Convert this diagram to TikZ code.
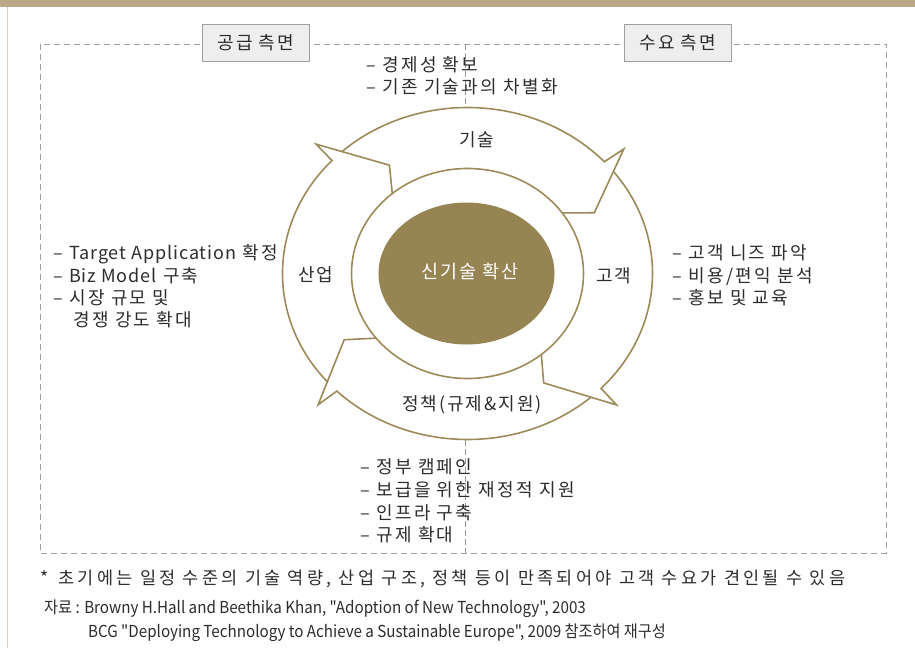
\documentclass[tikz,border=0pt]{standalone}
\usepackage{fontspec}
\setmainfont{Noto Sans CJK KR}
\newfontfamily\lstf[LetterSpace=13]{Noto Sans CJK KR}
\newfontfamily\lblf[LetterSpace=11]{Noto Sans CJK KR}
\newfontfamily\latf[LetterSpace=5]{Noto Sans CJK KR}
\newfontfamily\notef[LetterSpace=19]{Noto Sans CJK KR}
\newfontfamily\srcf[FakeStretch=0.92]{Noto Sans CJK KR}
\definecolor{gold}{RGB}{156,138,88}
\definecolor{goldfill}{RGB}{150,133,83}
\definecolor{topbar}{RGB}{185,169,134}
\definecolor{txt}{RGB}{45,45,45}
\begin{document}
\begin{tikzpicture}[x=1pt,y=-1pt,
 ring/.style={draw=gold, line width=1.6pt, line join=miter, miter limit=10},
 lst/.style={anchor=base west, inner sep=0pt, text=txt, font=\lstf\fontsize{18}{21}\selectfont},
 lbl/.style={inner sep=0pt, text=txt, font=\lblf\fontsize{18}{21}\selectfont},
 tagbox/.style={draw=gray!75, fill=gray!13, line width=0.9pt, minimum width=107pt, minimum height=37pt, inner sep=0pt, text=txt, font=\lblf\fontsize{18}{21}\selectfont},
 dashframe/.style={draw=gray!75, line width=0.9pt, dash pattern=on 6pt off 4pt},
 axisline/.style={draw=gray!80, line width=0.8pt, dash pattern=on 6pt off 3pt},
 src/.style={anchor=base west, inner sep=0pt, text=txt, font=\srcf\fontsize{16.5}{19}\selectfont},
]
\useasboundingbox (0,0) rectangle (915,648);
\fill[white] (0,0) rectangle (915,648);
\fill[topbar] (0,0) rectangle (915,7);
\draw[topbar!55, line width=1pt] (7,7) -- (7,648);
% dashed frame
\draw[dashframe] (40,44) rectangle (886,553);
% vertical axis
\coordinate (axtop) at (465,44);
\coordinate (ringtop) at (465,107);
\coordinate (ringbot) at (465,440);
\coordinate (axbot) at (465,553);
\draw[axisline] (axtop) -- (ringtop);
\draw[axisline] (ringbot) -- (axbot);
% tag boxes
\node[tagbox] (supply) at (256,43) {공급 측면};
\node[tagbox] (demand) at (678,43) {수요 측면};
% ring
\begin{scope}[shift={(467.5,273.5)}, x=185pt, y=166pt]
  \foreach \t/\p in {41.6/136.4, -44.5/41.6, -135.6/-44.5, -223.6/-135.6}{
    \draw[ring] ({\p-3.7}:1) arc[start angle={\p-3.7}, end angle={\t+0.7}, x radius=185pt, y radius=166pt]
      -- (\t:1.13) -- ({\t-13.5}:0.777) -- ({\t-6.2}:0.63);
  }
  \draw[ring] (0,0) ellipse[x radius=116pt, y radius=105pt];
\end{scope}
\fill[goldfill] (466.5,273.5) ellipse[x radius=88pt, y radius=71pt];
\node[inner sep=0pt, text=white, font=\lblf\fontsize{18.5}{21}\selectfont] (core) at (470,272) {신기술 확산};
% ring labels
\node[lbl] (tech) at (477,140) {기술};
\node[lbl] (industry) at (316,275) {산업};
\node[lbl] (customer) at (614,276) {고객};
\node[lbl] (policy) at (472,405) {정책(규제\&지원)};
% top list
\node[lst] (t1) at (366,71) {– 경제성 확보};
\node[lst] (t2) at (366,93) {– 기존 기술과의 차별화};
% left list
\node[lst] (l1) at (53,259) {– {\latf Target Application} 확정};
\node[lst] (l2) at (53,282) {– {\latf Biz Model} 구축};
\node[lst] (l3) at (53,304) {– 시장 규모 및};
\node[lst] (l4) at (73,326) {경쟁 강도 확대};
% right list
\node[lst] (r1) at (672,259) {– 고객 니즈 파악};
\node[lst] (r2) at (672,282) {– 비용/편익 분석};
\node[lst] (r3) at (672,304) {– 홍보 및 교육};
% bottom list
\node[lst] (b1) at (360,473) {– 정부 캠페인};
\node[lst] (b2) at (360,496) {– 보급을 위한 재정적 지원};
\node[lst] (b3) at (360,519) {– 인프라 구축};
\node[lst] (b4) at (360,541) {– 규제 확대};
% footnote
\node[anchor=base west, inner sep=0pt, text=txt, font=\notef\fontsize{17.5}{20}\selectfont] (note) at (40,584) {*\, 초기에는 일정 수준의 기술 역량, 산업 구조, 정책 등이 만족되어야 고객 수요가 견인될 수 있음};
\node[src] (s1) at (44,613) {자료 : Browny H.Hall and Beethika Khan, "Adoption of New Technology", 2003};
\node[src] (s2) at (88,637) {BCG "Deploying Technology to Achieve a Sustainable Europe", 2009 참조하여 재구성};
\end{tikzpicture}
\end{document}
